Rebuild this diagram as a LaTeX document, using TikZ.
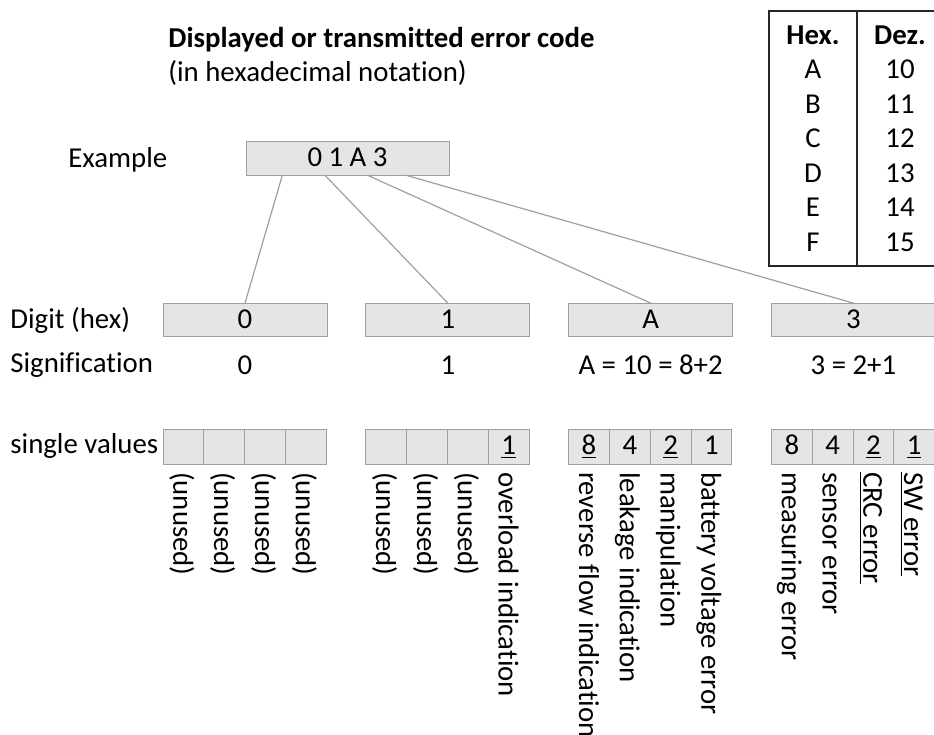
\documentclass[tikz,border=0pt]{standalone}
\usepackage{fontspec}
\setmainfont{Carlito}[Ligatures=NoCommon]
\usetikzlibrary{positioning,calc}

\begin{document}
\begin{tikzpicture}[x=0.5pt, y=-0.5pt, node distance=19pt,
    every node/.style={font=\fontsize{14.4pt}{17pt}\selectfont},
    label/.style={anchor=west, inner sep=0pt},
    digitbox/.style={rectangle, draw=gray!75, fill=gray!20, minimum width=82pt, minimum height=16.5pt, inner sep=0pt, text height=9.5pt, text depth=1.5pt},
    cell/.style={rectangle, draw=gray!75, fill=gray!20, minimum width=20.4pt, minimum height=17.5pt, inner sep=0pt, text height=9.5pt, text depth=1.5pt, anchor=north west},
    vlabel/.style={rotate=-90, anchor=west, inner sep=0pt, text height=12pt, text depth=2pt},
    conn/.style={draw=gray!75, line width=0.6pt},
    tabline/.style={draw=black!85, line width=1pt}]

    \useasboundingbox (0,0) rectangle (934,735);

    \node [label, font=\fontsize{14.4pt}{17pt}\selectfont\bfseries] (title) at (168,40) {Displayed or transmitted error code};
    \node [label] (subtitle) at (168,73) {(in hexadecimal notation)};

    \path [tabline] (934,11) -- (769,11) -- (769,266) -- (934,266);
    \path [tabline] (857,11) -- (857,266);
    \node [font=\fontsize{14.4pt}{17pt}\selectfont\bfseries] (th-hex) at (813,35) {Hex.};
    \node [font=\fontsize{14.4pt}{17pt}\selectfont\bfseries] (th-dez) at (900,35) {Dez.};
    \foreach \h/\d [count=\i] in {A/10, B/11, C/12, D/13, E/14, F/15}
        \node (hex-\h) at (813,35+34.5*\i) {\h} node (dez-\h) at (900,35+34.5*\i) {\d};

    \node [label] (example) at (68,160) {Example};
    \node [digitbox, minimum width=101.5pt, minimum height=17pt] (ex) at (347.5,158) {0 1 A 3};

    \node [label] (digit) at (10,320) {Digit (hex)};
    \node [label] (signif) at (10,365) {Signification};
    \node [label] (single) at (10,446) {single values};

    \node [digitbox] (d0) at (245,320) {0};
    \node [digitbox, right=of d0] (d1) {1};
    \node [digitbox, right=of d1] (d2) {A};
    \node [digitbox, right=of d2] (d3) {3};

    \foreach \i/\s in {0/0, 1/1, 2/{A = 10 = 8+2}, 3/{3 = 2+1}}
        \node [anchor=base] (s\i) at ($(d\i.center)+(0,-27pt)$) {\s};

    \foreach \i/\f in {0/0.18, 1/0.39, 2/0.60, 3/0.79} {
        \coordinate (ex-p\i) at ($(ex.south west)!\f!(ex.south east)$);
        \path [conn] (ex-p\i) -- (d\i.north);
    }

    \foreach \g/\k/\v/\t in {
        0/0//(unused), 0/1//(unused), 0/2//(unused), 0/3//(unused),
        1/0//(unused), 1/1//(unused), 1/2//(unused), 1/3/\underline{1}/overload indication,
        2/0/\underline{8}/reverse flow indication, 2/1/4/leakage indication, 2/2/\underline{2}/manipulation, 2/3/1/battery voltage error,
        3/0/8/measuring error, 3/1/4/sensor error, 3/2/\underline{2}/\underline{CRC error}, 3/3/\underline{1}/\underline{SW error}} {
        \node [cell] (c\g-\k) at ($(d\g.south west)+(\k*20.4pt,-46pt)$) {\v};
        \node [vlabel] (t\g-\k) at ($(c\g-\k.south)+(0,-3.5pt)$) {\t};
    }
\end{tikzpicture}
\end{document}
